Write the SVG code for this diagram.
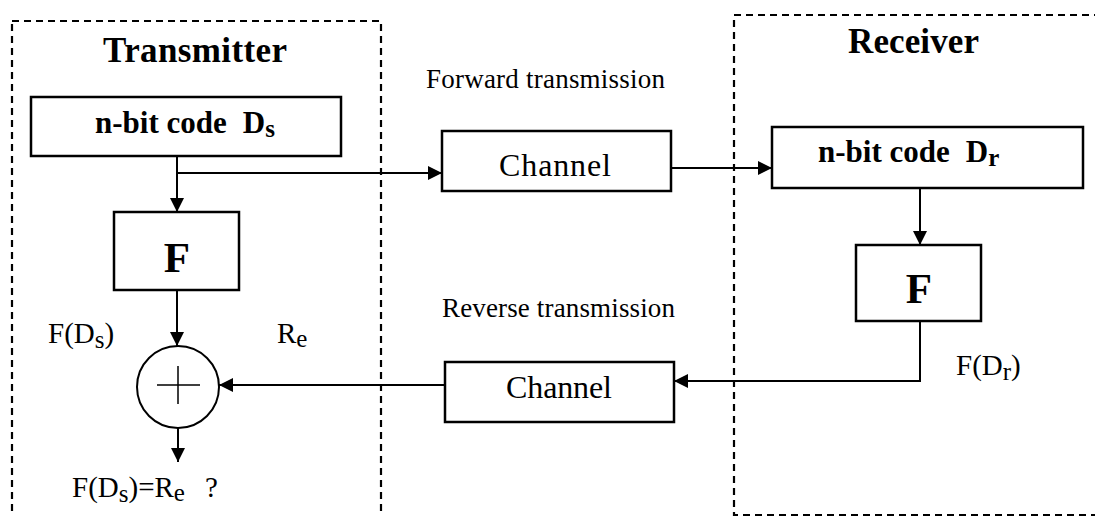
<svg xmlns="http://www.w3.org/2000/svg" width="1095" height="516" viewBox="0 0 1095 516">
<style>
.bg{fill:#fff}
.dash{fill:none;stroke:#000;stroke-width:2.2;stroke-dasharray:7 5}
.box{fill:#fff;stroke:#000;stroke-width:2.5}
.ln{fill:none;stroke:#000;stroke-width:2}
.thin{fill:none;stroke:#000;stroke-width:1.5}
text{font-family:"Liberation Serif","Times New Roman",serif;fill:#000}
.title{font-size:35px;font-weight:bold}
.code{font-size:31px;font-weight:bold}
.big{font-size:43px;font-weight:bold}
.chan{font-size:32px}
.lab{font-size:27px}
.sm{font-size:29px}
</style>
<defs>
<marker id="ah" markerUnits="userSpaceOnUse" markerWidth="14" markerHeight="14" refX="14" refY="7" orient="auto">
<path d="M0,0 L14,7 L0,14 z" fill="#000"/>
</marker>
</defs>
<rect class="bg" x="0" y="0" width="1095" height="516"/>
<g id="transmitter">
<rect class="dash" x="12" y="21" width="369" height="530"/>
<text class="title" x="103" y="62" textLength="184" lengthAdjust="spacing">Transmitter</text>
</g>
<g id="receiver">
<rect class="dash" x="734" y="15" width="400" height="500"/>
<text class="title" x="848" y="53" textLength="131" lengthAdjust="spacing">Receiver</text>
</g>
<g id="labels">
<text class="lab" x="426" y="88" textLength="239" lengthAdjust="spacing">Forward transmission</text>
<text class="lab" x="442" y="317" textLength="233" lengthAdjust="spacing">Reverse transmission</text>
<text class="sm" x="48" y="343">F(D<tspan font-size="25" dy="5">s</tspan><tspan dy="-5">)</tspan></text>
<text class="sm" x="277" y="343">R<tspan font-size="25" dy="4">e</tspan></text>
<text class="sm" x="72" y="497">F(D<tspan font-size="25" dy="5">s</tspan><tspan dy="-5">)=R</tspan><tspan font-size="25" dy="4">e</tspan><tspan dy="-4" dx="20">?</tspan></text>
<text class="sm" x="956" y="375">F(D<tspan font-size="25" dy="5">r</tspan><tspan dy="-5">)</tspan></text>
</g>
<g id="code-ds">
<rect class="box" x="31" y="97" width="310" height="59"/>
<text class="code" x="95" y="133">n-bit code<tspan dx="16">D</tspan><tspan font-size="25" dy="4">s</tspan></text>
</g>
<g id="f-tx">
<rect class="box" x="114" y="212" width="125" height="78"/>
<text class="big" x="177" y="272" text-anchor="middle">F</text>
</g>
<g id="adder">
<circle class="ln" cx="178" cy="387" r="41"/>
<path class="thin" d="M157,385 H200 M178,366 V404"/>
</g>
<g id="channel-fwd">
<rect class="box" x="442" y="131" width="229" height="60"/>
<text class="chan" x="499" y="176" textLength="112" lengthAdjust="spacing">Channel</text>
</g>
<g id="channel-rev">
<rect class="box" x="445" y="362" width="229" height="60"/>
<text class="chan" x="506" y="398" textLength="106" lengthAdjust="spacing">Channel</text>
</g>
<g id="code-dr">
<rect class="box" x="772" y="127" width="311" height="61"/>
<text class="code" x="818" y="162">n-bit code<tspan dx="16">D</tspan><tspan font-size="25" dy="4">r</tspan></text>
</g>
<g id="f-rx">
<rect class="box" x="856" y="245" width="125" height="76"/>
<text class="big" x="919" y="303" text-anchor="middle">F</text>
</g>
<g id="connectors">
<path class="ln" d="M177,156 V212" marker-end="url(#ah)"/>
<path class="ln" d="M177,173 H442" marker-end="url(#ah)"/>
<path class="ln" d="M671,168 H772" marker-end="url(#ah)"/>
<path class="ln" d="M920,188 V245" marker-end="url(#ah)"/>
<path class="ln" d="M920,321 V381 H674" marker-end="url(#ah)"/>
<path class="ln" d="M445,385 H219" marker-end="url(#ah)"/>
<path class="ln" d="M177,290 V346" marker-end="url(#ah)"/>
<path class="ln" d="M178,428 V462" marker-end="url(#ah)"/>
</g>
</svg>
